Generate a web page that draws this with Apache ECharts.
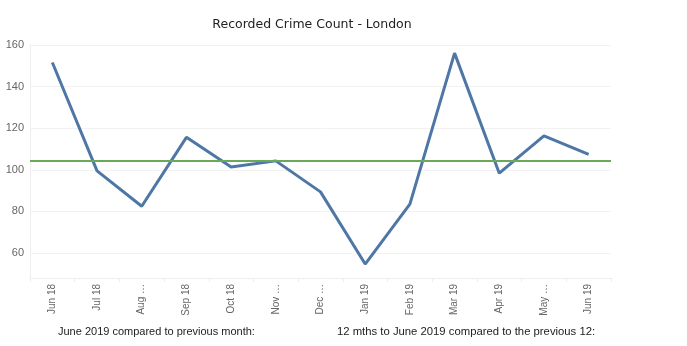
<!DOCTYPE html>
<html><head><meta charset="utf-8">
<script src="https://cdn.jsdelivr.net/npm/echarts@6/dist/echarts.min.js"></script>
<style>html,body{margin:0;padding:0;background:#fff}#c{width:687px;height:346px}</style>
</head><body><div id="c"></div>
<script>
const months = ["Jun 18","Jul 18","Aug 18","Sep 18","Oct 18","Nov 18","Dec 18","Jan 19","Feb 19","Mar 19","Apr 19","May 19","Jun 19"];
const tickLabels = ["Jun 18","Jul 18","Aug …","Sep 18","Oct 18","Nov …","Dec …","Jan 19","Feb 19","Mar 19","Apr 19","May …","Jun 19"];
const crimeCount = [151.6,99.5,82.5,115.6,101.4,104.3,89.4,54.7,83.5,156.1,98.4,116.3,107.4];
const averageLevel = 104.6;
const yTicks = [60,80,100,120,140,160];
const title = "Recorded Crime Count - London";
const footLeft = "June 2019 compared to previous month:";
const footRight = "12 mths to June 2019 compared to the previous 12:";

const chart = echarts.init(document.getElementById('c'));
chart.setOption({
  animation:false,
  title:{text:title,left:307,top:13,textAlign:'center',textStyle:{fontFamily:'DejaVu Sans',fontSize:12.5,fontWeight:'normal',color:'#222'}},
  grid:{left:30,right:76,top:45,bottom:68},
  xAxis:{type:'category',data:months,boundaryGap:true,
    axisLine:{lineStyle:{color:'#eeeeee'}},
    axisTick:{show:true,length:4,lineStyle:{color:'#eeeeee'}},
    axisLabel:{rotate:90,fontFamily:'Liberation Sans',fontSize:10,color:'#666',margin:6,
      formatter:(v,i)=>tickLabels[i]}},
  yAxis:{type:'value',min:48,max:160,interval:4,
    axisLine:{show:true,lineStyle:{color:'#eeeeee'}},
    axisTick:{show:false},
    splitLine:{show:false},
    axisLabel:{fontFamily:'Liberation Sans',fontSize:11,color:'#666',margin:6,
      formatter:v=>yTicks.includes(v)?String(v):''}},
  series:[
    {type:'line',data:[],z:0,silent:true,
      markLine:{silent:true,z:0,symbol:['none','none'],label:{show:false},
        lineStyle:{color:'#f2f2f2',width:1,type:'solid'},
        data:yTicks.map(v=>({yAxis:v}))}},
    {type:'line',data:crimeCount,symbol:'none',z:3,
    lineStyle:{color:'#4e77a6',width:3},
    markLine:{silent:true,z:6,symbol:['none','none'],label:{show:false},
      lineStyle:{color:'#6aa85a',width:2,type:'solid'},
      data:[{yAxis:averageLevel}]}}],
  graphic:[
    {type:'text',left:58,top:326,style:{text:footLeft,fontFamily:'Liberation Sans',fontSize:11,fill:'#222'}},
    {type:'text',left:337,top:326,style:{text:footRight,fontFamily:'Liberation Sans',fontSize:11.3,fill:'#222'}}
  ]
});
</script></body></html>
